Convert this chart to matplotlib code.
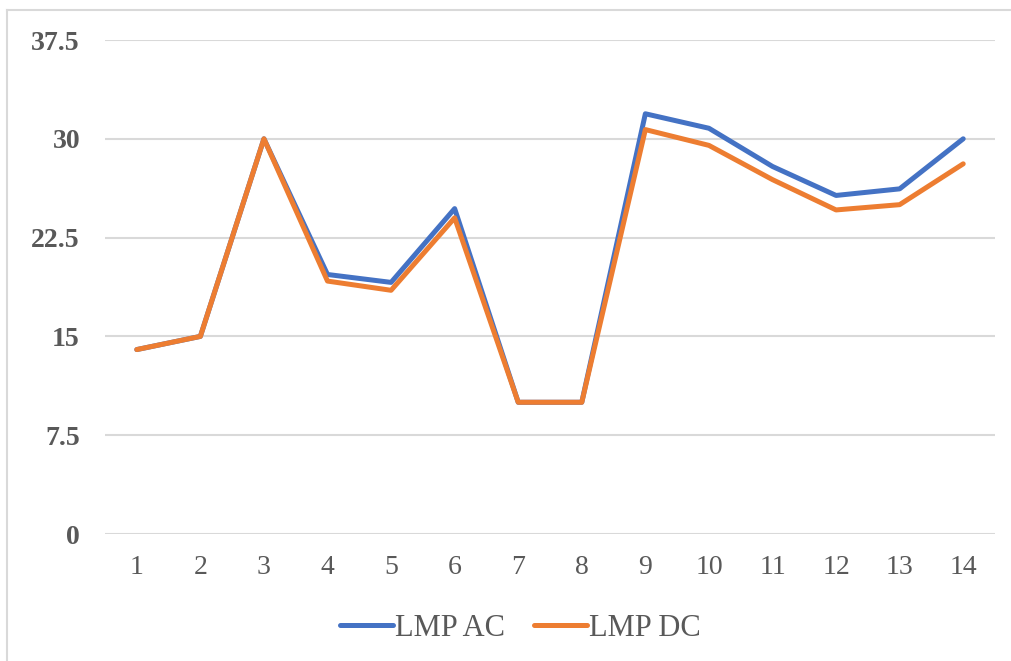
import matplotlib.pyplot as plt
from matplotlib.lines import Line2D

# LMP per bus, AC vs DC power flow
buses = list(range(1, 15))
lmp_ac = [14.0, 15.0, 30.0, 19.7, 19.1, 24.7, 10.0, 10.0, 31.9, 30.8, 27.9, 25.7, 26.2, 30.0]
lmp_dc = [14.0, 15.0, 30.0, 19.2, 18.5, 24.0, 10.0, 10.0, 30.7, 29.5, 26.9, 24.6, 25.0, 28.1]
y_ticks = [0, 7.5, 15, 22.5, 30, 37.5]
y_tick_labels = ["0", "7.5", "15", "22.5", "30", "37.5"]

plt.rcParams['font.family'] = ['Liberation Serif', 'DejaVu Serif']

fig = plt.figure(figsize=(10.11, 6.61), dpi=100)
ax = fig.add_axes([105 / 1011, 1 - 534 / 661, 890 / 1011, 494 / 661])

ax.plot(buses, lmp_ac, color='#4472C4', lw=3.6, label='LMP AC', solid_joinstyle='round', solid_capstyle='round')
ax.plot(buses, lmp_dc, color='#ED7D31', lw=3.6, label='LMP DC', solid_joinstyle='round', solid_capstyle='round')

ax.set_xlim(0.5, 14.5)
ax.set_ylim(0, 37.5)
ax.set_xticks(buses)
ax.set_xticklabels([str(b) for b in buses], fontsize=20, color='#595959')
ax.set_yticks(y_ticks)
ax.set_yticklabels(y_tick_labels, fontsize=20, fontweight='bold', color='#595959')
ax.tick_params(length=0, axis='x', pad=15)
ax.tick_params(length=0, axis='y', pad=18)
ax.grid(axis='y', color='#d9d9d9', lw=1.5)
ax.set_axisbelow(True)
for s in ax.spines.values():
    s.set_visible(False)

ax.legend(loc='center', bbox_to_anchor=(520 / 1011, 1 - 628 / 661), bbox_transform=fig.transFigure,
          ncol=2, frameon=False, fontsize=22, handlelength=1.75, columnspacing=0.95,
          handletextpad=0.05, labelcolor='#595959')

# light frame along top and left edges
fig.add_artist(Line2D([7 / 1011, 1], [1 - 10 / 661, 1 - 10 / 661], color='#d9d9d9', lw=1.5))
fig.add_artist(Line2D([7 / 1011, 7 / 1011], [0, 1 - 10 / 661], color='#d9d9d9', lw=1.5))

fig.savefig('out.png', dpi=100)
